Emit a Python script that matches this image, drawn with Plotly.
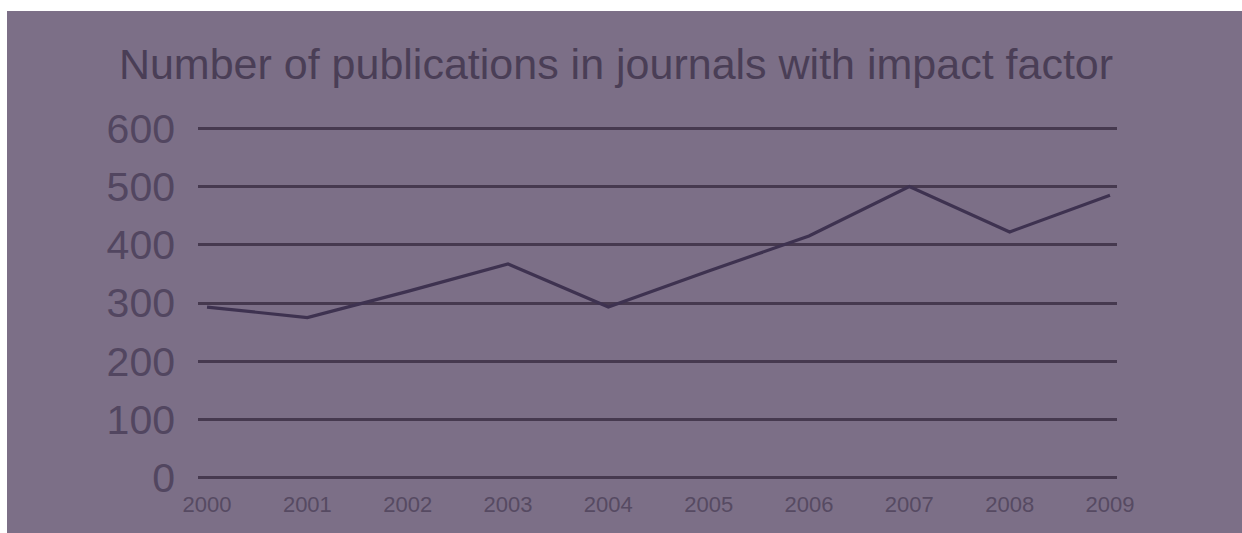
import plotly.graph_objects as go

years = ["2000", "2001", "2002", "2003", "2004", "2005", "2006", "2007", "2008", "2009"]
publications = [293, 275, 320, 367, 293, 355, 415, 500, 422, 485]
y_ticks = [0, 100, 200, 300, 400, 500, 600]

BG = "#7c6f87"
DARK = "#46394f"
W, H = 1242, 533

fig = go.Figure()
fig.add_trace(go.Scatter(
    x=list(range(len(years))), y=publications, mode="lines",
    line=dict(color="#3e3250", width=3.2), showlegend=False, hoverinfo="skip"))

fig.update_layout(
    width=W, height=H,
    paper_bgcolor=BG, plot_bgcolor=BG,
    margin=dict(l=198, r=125, t=126, b=53, pad=0),
    title=dict(text="Number of publications in journals with impact factor",
               x=616 / W, xanchor="center", xref="container",
               y=1 - 64 / H, yanchor="middle", yref="container",
               font=dict(family="Liberation Sans, Arial", size=43, color="#4a3e56")),
    xaxis=dict(range=[-0.09, 9.07], tickmode="array", tickvals=list(range(len(years))), ticktext=years,
               showgrid=False, zeroline=False, showline=False, ticks="",
               ticklabelstandoff=9,
               tickfont=dict(family="Liberation Sans, Arial", size=22, color="#564a62")),
    yaxis=dict(range=[-4, 604], tickmode="array", tickvals=y_ticks,
               showgrid=True, gridcolor=DARK, gridwidth=3, zeroline=False, showline=False,
               ticks="", ticklabelstandoff=22,
               tickfont=dict(family="Liberation Sans, Arial", size=41, color="#524660")),
    shapes=[
        dict(type="rect", xref="paper", yref="paper", x0=-198 / 919, x1=(W - 198) / 919,
             y0=1 + 115 / 354, y1=1 + 140 / 354, fillcolor="white", line=dict(width=0), layer="above"),
        dict(type="rect", xref="paper", yref="paper", x0=-198 / 919, x1=-191 / 919,
             y0=-1, y1=2, fillcolor="white", line=dict(width=0), layer="above"),
    ],
)

fig.write_html("out.html", config={"displayModeBar": False},
               post_script="document.body.style.margin='0';document.body.style.overflow='hidden';")
